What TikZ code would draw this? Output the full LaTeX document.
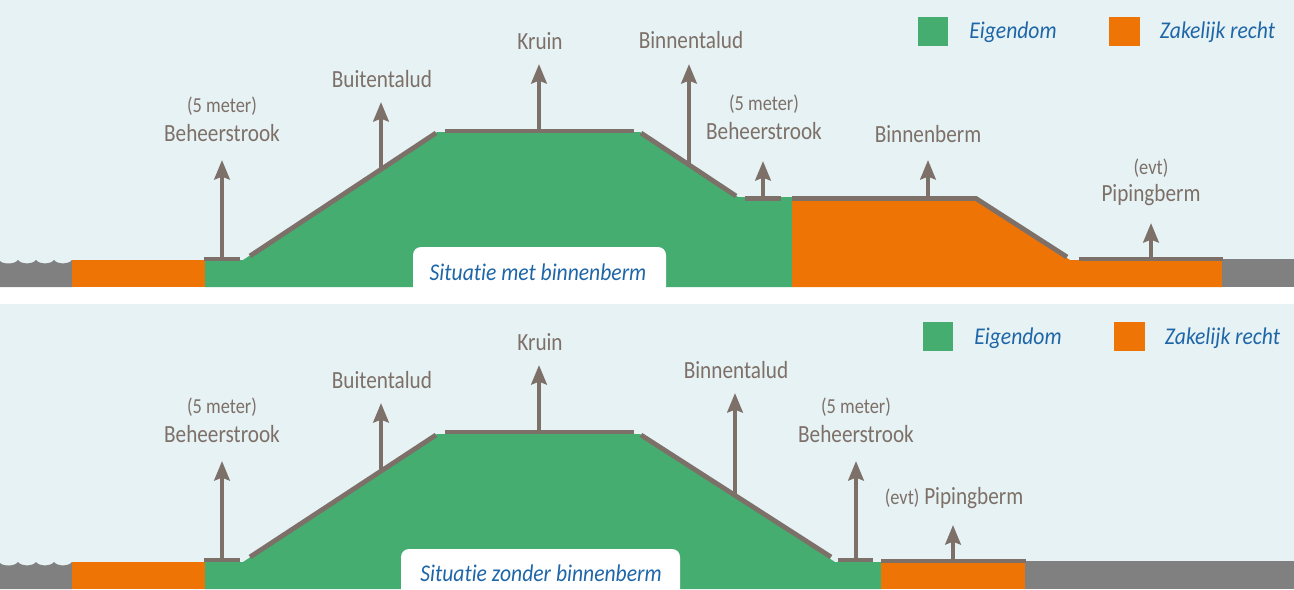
\documentclass[tikz,border=0pt]{standalone}
\usepackage{fontspec}
\setmainfont[FakeStretch=0.86,Ligatures=CommonOff]{Carlito}
\newfontfamily\legfont[FakeStretch=0.9,Ligatures=CommonOff,ItalicFeatures={FakeStretch=0.9}]{Carlito}
\usetikzlibrary{arrows.meta}
\definecolor{bgc}{HTML}{E6F2F4}
\definecolor{grn}{HTML}{45AD70}
\definecolor{org}{HTML}{EE7405}
\definecolor{gry}{HTML}{808080}
\definecolor{brn}{HTML}{7D7068}
\definecolor{blu}{HTML}{1F66A8}
\tikzset{
  x=0.75pt,y=-0.75pt,
  ridge/.style={draw=brn,line width=3.6pt},
  uparrow/.style={draw=brn,line width=3.2pt,-{Triangle[length=14.5pt,width=11.5pt,inset=2pt]}},
  lbl/.style={text=brn,align=center,inner sep=0pt,font=\fontsize{18.5}{22}\selectfont},
  leg/.style={text=blu,inner sep=0pt,font=\legfont\fontsize{18}{21}\selectfont\itshape},
  tag/.style={fill=white,rounded corners=6pt},
}
\newcommand{\smalltext}{\fontsize{16}{19}\selectfont}
\newcommand{\waves}[1]{%
  \fill[gry] (0,#1+1) .. controls (3,#1+4.5) and (15,#1+4.5) .. (18,#1)
    .. controls (21,#1+4.5) and (33,#1+4.5) .. (36,#1)
    .. controls (39,#1+4.5) and (51,#1+4.5) .. (54,#1)
    .. controls (57,#1+4.5) and (69,#1+4.5) .. (72,#1)
    -- (72,#1+27) -- (0,#1+27) -- cycle;}
\begin{document}
\begin{tikzpicture}
\useasboundingbox (0,0) rectangle (1294,589);
\fill[white] (0,0) rectangle (1294,589);
\fill[bgc] (0,0) rectangle (1294,287);
\fill[bgc] (0,304) rectangle (1294,589);
% top panel ground
\waves{260}
\fill[org] (72,260) rectangle (205,287);
\fill[grn] (205,260) -- (243,260) -- (437,132) -- (640,132) -- (738,197) -- (792,197) -- (792,287) -- (205,287) -- cycle;
\fill[org] (792,198) -- (976,198) -- (1070,260) -- (1222,260) -- (1222,287) -- (792,287) -- cycle;
\fill[gry] (1222,259) rectangle (1294,287);
\draw[ridge] (204,259) -- (240,259);
\draw[ridge] (250,256) -- (436,133);
\draw[ridge] (445,131) -- (634,131);
\draw[ridge] (641,133) -- (736,196);
\draw[ridge] (745,198.5) -- (781,198.5);
\draw[ridge] (792,198.5) -- (976,198.5) -- (1067,257);
\draw[ridge] (1079,259) -- (1223,259);
% top arrows
\coordinate (a1b) at (222,259); \coordinate (a1t) at (222,160);
\coordinate (a2b) at (381,169); \coordinate (a2t) at (381,102);
\coordinate (a3b) at (539,131); \coordinate (a3t) at (539,64);
\coordinate (a4b) at (689,165); \coordinate (a4t) at (689,64);
\coordinate (a5b) at (763,198); \coordinate (a5t) at (763,161);
\coordinate (a6b) at (928,198); \coordinate (a6t) at (928,160);
\coordinate (a7b) at (1151,259); \coordinate (a7t) at (1151,223);
\foreach \n in {1,...,7} \draw[uparrow] (a\n b) -- (a\n t);
\node[lbl] (t1) at (222,106) {\smalltext (5 meter)};
\node[lbl] (t1b) at (222,133) {Beheerstrook};
\node[lbl] (t2) at (382,79) {Buitentalud};
\node[lbl] (t3) at (540,41) {Kruin};
\node[lbl] (t4) at (691,40) {Binnentalud};
\node[lbl] (t5) at (764,104) {\smalltext (5 meter)};
\node[lbl] (t5b) at (764,131) {Beheerstrook};
\node[lbl] (t6) at (928,134) {Binnenberm};
\node[lbl] (t7) at (1151,168) {\smalltext (evt)};
\node[lbl] (t7b) at (1151,195) {Pipingberm};
\fill[tag] (413,294) rectangle (666,247);
\fill[white] (413,287) rectangle (666,304);
\node[leg] (t8) at (538,272) {Situatie met binnenberm};
% top legend
\fill[grn] (918,17) rectangle (948,46);
\node[leg] (t9) at (1013,32) {Eigendom};
\fill[org] (1109,17) rectangle (1140,46);
\node[leg] (t10) at (1217.5,32) {Zakelijk recht};
% bottom panel ground
\waves{562}
\fill[org] (72,562) rectangle (205,589);
\fill[grn] (205,562) -- (243,562) -- (437,434) -- (640,434) -- (835,562) -- (881,562) -- (881,589) -- (205,589) -- cycle;
\fill[org] (881,562) rectangle (1025,589);
\fill[gry] (1025,561) rectangle (1294,589);
\draw[ridge] (204,560) -- (240,560);
\draw[ridge] (250,557) -- (436,435);
\draw[ridge] (445,432) -- (634,432);
\draw[ridge] (641,435) -- (831,557);
\draw[ridge] (838,560) -- (873,560);
\draw[ridge] (881,561) -- (1026,561);
% bottom arrows
\coordinate (b1b) at (222,560); \coordinate (b1t) at (222,461);
\coordinate (b2b) at (381,471); \coordinate (b2t) at (381,403);
\coordinate (b3b) at (539,432); \coordinate (b3t) at (539,365);
\coordinate (b4b) at (735,497); \coordinate (b4t) at (735,393);
\coordinate (b5b) at (856,560); \coordinate (b5t) at (856,461);
\coordinate (b6b) at (953,561); \coordinate (b6t) at (953,525);
\foreach \n in {1,...,6} \draw[uparrow] (b\n b) -- (b\n t);
\node[lbl] (u1) at (222,407) {\smalltext (5 meter)};
\node[lbl] (u1b) at (222,434) {Beheerstrook};
\node[lbl] (u2) at (382,380) {Buitentalud};
\node[lbl] (u3) at (540,342) {Kruin};
\node[lbl] (u4) at (736,370) {Binnentalud};
\node[lbl] (u5) at (856,407) {\smalltext (5 meter)};
\node[lbl] (u5b) at (856,434) {Beheerstrook};
\node[lbl] (u6) at (954,498) {{\smalltext (evt)} Pipingberm};
\fill[tag] (401,600) rectangle (680,549);
\node[leg] (u8) at (541,573) {Situatie zonder binnenberm};
% bottom legend
\fill[grn] (923,322) rectangle (953,351);
\node[leg] (u9) at (1018,338) {Eigendom};
\fill[org] (1114,322) rectangle (1145,351);
\node[leg] (u10) at (1222.5,338) {Zakelijk recht};
\end{tikzpicture}
\end{document}
